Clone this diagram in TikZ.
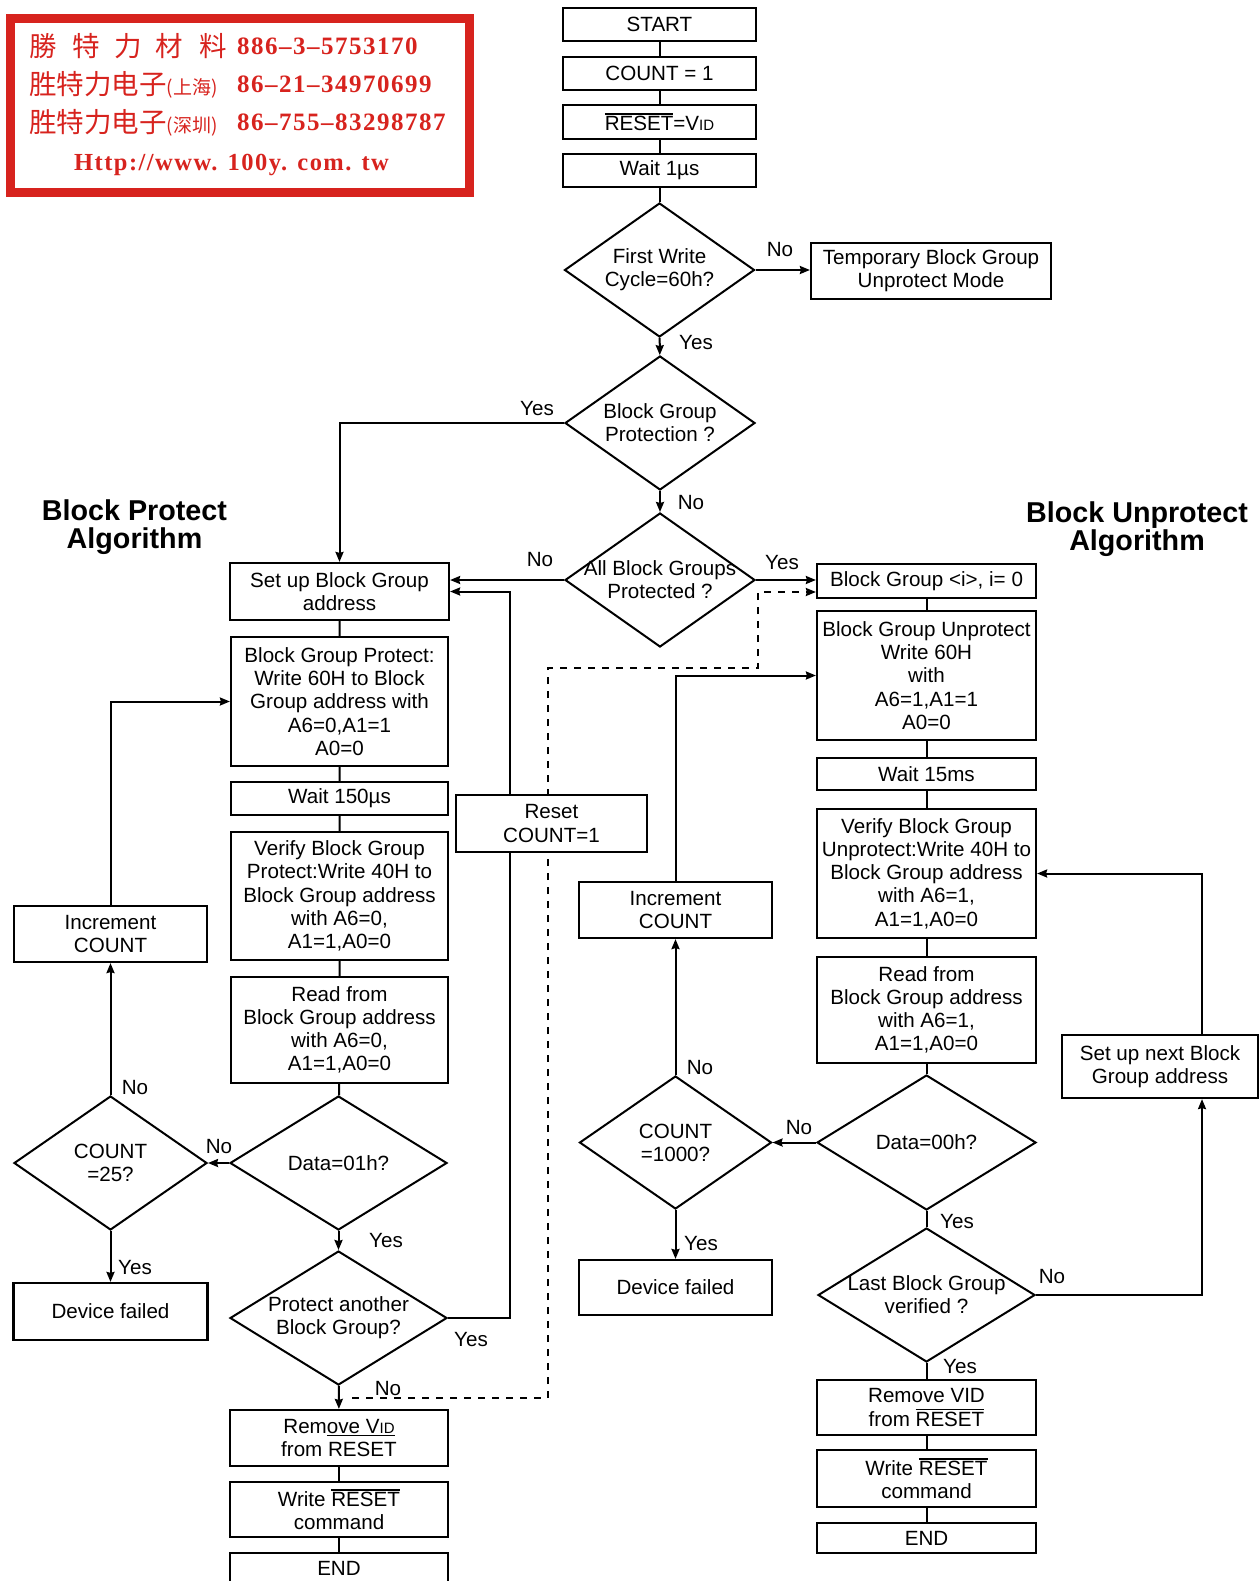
\documentclass[tikz,border=0pt]{standalone}
\usepackage{fontspec}
\setmainfont{Liberation Sans}
\newfontfamily\stampcjk{Noto Sans CJK SC}
\newfontfamily\stampnum[LetterSpace=6]{Liberation Serif}
\usetikzlibrary{arrows.meta,shapes.geometric,backgrounds}
\definecolor{stampred}{RGB}{215,35,30}
\newcommand{\ovl}[1]{\leavevmode\vbox{\hrule height 1.6pt\kern 1.6pt\hbox{#1}}}
\newcommand{\uln}[1]{\leavevmode\vtop{\hbox{#1}\kern 1.2pt\hrule height 1.6pt}}
\newcommand{\vid}{V{\fontsize{15}{16}\selectfont ID}}
\newcommand{\zw}[1]{\makebox[0pt]{#1}}
\tikzset{
  txt/.style={font=\fontsize{20.6}{23.2}\selectfont},
  bx/.style 2 args={draw, fill=white, txt, line width=2.2pt, inner sep=0pt, align=center,
    minimum width=#1pt, minimum height=#2pt},
  dm/.style 2 args={diamond, draw, fill=white, txt, line width=2pt, inner sep=0pt, align=center,
    minimum width=#1pt, minimum height=#2pt},
  lbl/.style={txt, inner sep=0pt},
  hdr/.style={font=\fontsize{28.7}{28}\selectfont\bfseries, align=center, inner sep=0pt},
  link/.style={line width=2pt},
  flow/.style={line width=2pt, -{Stealth[length=10pt,width=8pt,inset=1pt]}},
  stamp/.style={stampred, anchor=base west, inner sep=0pt},
}

\begin{document}
\begin{tikzpicture}[x=1pt,y=-1pt]

        \def\xc{659.5}
        \def\xl{339.5}
        \def\xm{675.5}
        \def\xr{926.5}
        \useasboundingbox (0,0) rectangle (1259,1581);
%        \draw[style=help lines, step=50] (0,0) grid (1259,1581);

        % stamp
        \draw[stampred, line width=9pt] (10.5,18.5) rectangle (469,192.5);
        \node[stamp] (s1) at (29,57) {\stampcjk\fontsize{27.5}{28}\selectfont 勝\hspace{16pt}特\hspace{14pt}力\hspace{14pt}材\hspace{16pt}料};
        \node[stamp] (s1n) at (237,55) {\stampnum\bfseries\fontsize{25}{25}\selectfont 886–3–5753170};
        \node[stamp] (s2) at (29,95) {\stampcjk\fontsize{27.5}{28}\selectfont 胜特力电子{\fontsize{19}{20}\selectfont(上海)}};
        \node[stamp] (s2n) at (237,93) {\stampnum\bfseries\fontsize{25}{25}\selectfont 86–21–34970699};
        \node[stamp] (s3) at (29,133) {\stampcjk\fontsize{27.5}{28}\selectfont 胜特力电子{\fontsize{19}{20}\selectfont(深圳)}};
        \node[stamp] (s3n) at (237,131) {\stampnum\bfseries\fontsize{25}{25}\selectfont 86–755–83298787};
        \node[stamp] (s4) at (74,170.5) {\stampnum\bfseries\fontsize{24.5}{25}\selectfont Http://www. 100y. com. tw};

        % headers
        \draw (134.5,527.5) node[hdr] (hbp) {Block Protect\\Algorithm};
        \draw (1137,529.5) node[hdr] (hbu) {Block Unprotect\\Algorithm};

        % main column
        \node[bx={193}{33}] (start) at (\xc,24.5) {START};
        \node[bx={193}{33}] (cnt) at (\xc,73.5) {COUNT = 1};
        \node[bx={193}{34}] (rst) at (\xc,122) {\ovl{RESET}=\vid};
        \node[bx={193}{33}] (wt1) at (\xc,170.5) {Wait 1µs};
        \node[dm={190}{134}] (fw) at (\xc,270) {\zw{First Write}\\\zw{Cycle=60h?}};
        \node[bx={240}{56}] (tmp) at (931,271) {Temporary Block Group\\Unprotect Mode};
        \node[dm={190}{134}] (bgp) at (660,423) {\zw{Block Group}\\\zw{Protection ?}};
        \node[dm={190}{134}] (abg) at (660,580) {\zw{All Block Groups}\\\zw{Protected ?}};

        % block protect
        \node[bx={219}{57}] (sup) at (\xl,591.5) {Set up Block Group\\address};
        \node[bx={217}{129}] (prw) at (\xl,701.5) {Block Group Protect:\\Write 60H to Block\\Group address with\\A6=0,A1=1\\A0=0};
        \node[bx={217}{33}] (w150) at (\xl,798.5) {Wait 150µs};
        \node[bx={217}{128}] (vfp) at (\xl,896) {Verify Block Group\\Protect:Write 40H to\\Block Group address\\with A6=0,\\A1=1,A0=0};
        \node[bx={217}{106}] (rdp) at (\xl,1030) {Read from\\Block Group address\\with A6=0,\\A1=1,A0=0};
        \node[dm={217}{134}] (d01) at (338.5,1163) {\zw{Data=01h?}};
        \node[dm={217}{134}] (pa) at (338.5,1318) {\zw{Protect another}\\\zw{Block Group?}};
        \node[bx={218}{56}] (rmp) at (339,1438) {Rem\uln{ove \vid}\\from RESET};
        \node[bx={218}{55}] (wrp) at (339,1509.5) {Write \ovl{RESET}\\command};
        \node[bx={218}{30}] (endp) at (339,1568) {END};
        \node[bx={193}{56}] (inc25) at (110.5,934) {Increment\\COUNT};
        \node[dm={193}{134}] (c25) at (110.5,1163) {\zw{COUNT}\\\zw{=25?}};
        \node[bx={194}{57}] (df25) at (110.5,1311.5) {Device failed};
        \node[bx={191}{57}] (rsc) at (551.5,823.5) {Reset\\COUNT=1};

        % block unprotect
        \node[bx={193}{56}] (incm) at (\xm,910) {Increment\\COUNT};
        \node[dm={192}{133}] (c1k) at (\xm,1142.5) {\zw{COUNT}\\\zw{=1000?}};
        \node[bx={193}{55}] (df1k) at (\xm,1287.5) {Device failed};
        \node[bx={219}{34}] (bgi) at (\xr,581) {Block Group <i>, i= 0};
        \node[bx={219}{129}] (upw) at (\xr,675.5) {Block Group Unprotect\\Write 60H\\with\\A6=1,A1=1\\A0=0};
        \node[bx={219}{32}] (w15) at (\xr,774) {Wait 15ms};
        \node[bx={219}{129}] (vfu) at (\xr,873.5) {Verify Block Group\\Unprotect:Write 40H to\\Block Group address\\with A6=1,\\A1=1,A0=0};
        \node[bx={219}{106}] (rdu) at (\xr,1010) {Read from\\Block Group address\\with A6=1,\\A1=1,A0=0};
        \node[dm={219}{135}] (d00) at (\xr,1142.5) {\zw{Data=00h?}};
        \node[dm={217}{134}] (lbg) at (\xr,1295) {\zw{Last Block Group}\\\zw{verified ?}};
        \node[bx={219}{55}] (rmu) at (\xr,1407.5) {Remove VID\\from \ovl{RESET}};
        \node[bx={219}{57}] (wru) at (\xr,1478.5) {Write \ovl{RESET}\\command};
        \node[bx={219}{30}] (endu) at (\xr,1538) {END};
        \node[bx={196}{63}] (snb) at (1160,1066.5) {Set up next Block\\Group address};

        \coordinate (dn) at (352,1398);
        \coordinate (dj) at (758,592);

        % connectors
        \draw[link] (start) -- (cnt) -- (rst) -- (wt1) -- (fw);
        \draw[flow] (fw.east) -- (fw.east -| tmp.west);
        \draw[flow] (fw) -- (bgp);
        \draw[flow] (bgp.west) -| (sup.north);
        \draw[flow] (bgp) -- (abg);
        \draw[flow] (abg.west) -- (abg.west -| sup.east);
        \draw[flow] (abg.east) -- (abg.east -| bgi.west);
        \begin{scope}[on background layer]
        \draw[flow, dash pattern=on 7pt off 7pt] (dn) -| (548,668) -| (dj) -- (dj -| bgi.west);
        \end{scope}

        \draw[link] (sup) -- (prw) -- (w150) -- (vfp) -- (rdp) -- (d01);
        \draw[flow] (d01) -- (c25);
        \draw[flow] (d01) -- (pa);
        \draw[flow] (c25) -- (inc25);
        \draw[flow] (inc25.north) |- (prw.west);
        \draw[flow] (c25) -- (df25);
        \draw[link] (pa.east) -| ([xshift=-41.5pt]rsc.south);
        \draw[flow] ([xshift=-41.5pt]rsc.north) |- (sup.east);
        \draw[flow] (pa) -- (rmp);
        \draw[link] (rmp) -- (wrp) -- (endp);

        \draw[link] (bgi) -- (upw) -- (w15) -- (vfu) -- (rdu) -- (d00);
        \draw[flow] (d00) -- (c1k);
        \draw[link] (d00) -- (lbg);
        \draw[flow] (lbg.east) -| ([xshift=42pt]snb.south);
        \draw[flow] ([xshift=42pt]snb.north) |- (vfu.east);
        \draw[link] (lbg) -- (rmu) -- (wru) -- (endu);
        \draw[flow] (c1k) -- (incm);
        \draw[flow] (c1k) -- (df1k);
        \draw[flow] (incm.north) |- (upw.west);

        % labels
        \draw (780,250) node[lbl] (l1) {No};
        \draw (696,343) node[lbl] (l2) {Yes};
        \draw (537,409) node[lbl] (l3) {Yes};
        \draw (691,503) node[lbl] (l4) {No};
        \draw (540,560) node[lbl] (l5) {No};
        \draw (782,563) node[lbl] (l6) {Yes};
        \draw (219,1147) node[lbl] (l7) {No};
        \draw (135,1088) node[lbl] (l8) {No};
        \draw (135,1267) node[lbl] (l9) {Yes};
        \draw (386,1240) node[lbl] (l10) {Yes};
        \draw (471,1339) node[lbl] (l11) {Yes};
        \draw (388,1388) node[lbl] (l12) {No};
        \draw (700,1068) node[lbl] (l13) {No};
        \draw (799,1127) node[lbl] (l14) {No};
        \draw (701,1243) node[lbl] (l15) {Yes};
        \draw (957,1221) node[lbl] (l16) {Yes};
        \draw (1052,1276) node[lbl] (l17) {No};
        \draw (960,1366) node[lbl] (l18) {Yes};

\end{tikzpicture}
\end{document}
